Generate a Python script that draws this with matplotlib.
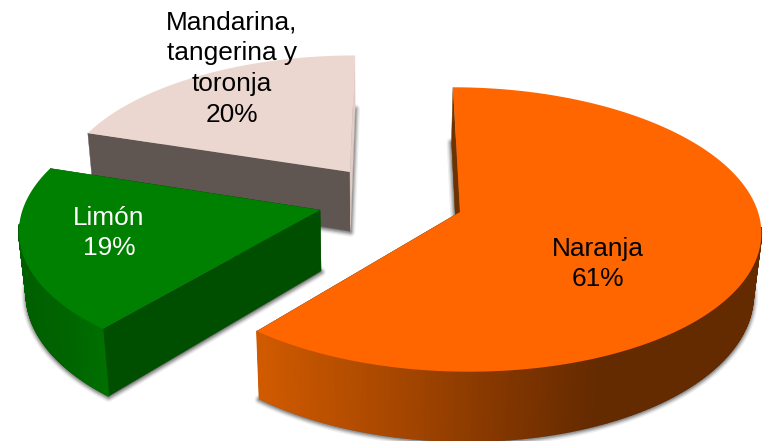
import numpy as np
import matplotlib
matplotlib.use("Agg")
import matplotlib.pyplot as plt
from matplotlib.collections import PolyCollection
from matplotlib.patches import Polygon

plt.rcParams['font.family'] = ['Liberation Sans', 'DejaVu Sans']

categories = ["Naranja", "Limón", "Mandarina,\ntangerina y\ntoronja"]
values = [61, 19, 20]

# projection of the pie plane, in pixels of the 767x441 picture
RADIUS = 298
XC, YC = 396, 212
SQUASH, DIST = 0.47, 2423
DEPTH = 61
FOOT_X, FOOT_DIST = 370, 3000

# where each slice tip lands on screen after the explode
tips = [(460, 212), (320, 210), (350, 172)]
top_colors = ["#ff6600", "#008000", "#ecd7d0"]
start_face = ["#6e3200", "#004e00", "#5f5551"]
end_face = ["#6e3200", "#004e00", "#e2cdc6"]
wall_stops = [
    ([260, 400, 520, 600, 763], ["#d05a00", "#a54600", "#7d3400", "#642a00", "#642a00"]),
    ([20, 60, 105], ["#005f00", "#006400", "#007000"]),
    ([80, 360], ["#5f5551", "#5f5551"]),
]
label_pos = [(597.5, 264), (109, 233), (232, 68.5)]
label_colors = ["black", "white", "black"]


def project(X, Y):
    s = DIST / (DIST + Y)
    return XC + X * s, YC - SQUASH * Y * s, s


def unproject(sx, sy):
    t = (YC - sy) / (SQUASH * DIST)
    Y = DIST * t / (1 - t)
    return (sx - XC) / (1 - t), Y


def drop(sx, sy, s):
    dy = DEPTH * s
    return sx + (FOOT_X - sx) * dy / FOOT_DIST, sy + dy


def hex_mix(xs, stops):
    rgb = np.array([matplotlib.colors.to_rgb(c) for c in stops[1]])
    return np.column_stack([np.interp(xs, stops[0], rgb[:, i]) for i in range(3)])


fig = plt.figure(figsize=(7.67, 4.41), dpi=100)
ax = fig.add_axes([0, 0, 1, 1])
ax.set_xlim(0, 767)
ax.set_ylim(441, 0)
ax.axis('off')

fractions = np.array(values) / sum(values)
edges = np.concatenate([[0], np.cumsum(fractions)]) * 2 * np.pi

# far slices first, orange never touches the others
for i in [2, 1, 0]:
    X0, Y0 = unproject(*tips[i])
    ang = np.linspace(edges[i], edges[i + 1], 220)
    ax_, ay_, as_ = project(X0 + RADIUS * np.sin(ang), Y0 + RADIUS * np.cos(ang))
    bx, by = drop(ax_, ay_, as_)
    tx, ty, ts = project(X0, Y0)
    tbx, tby = drop(tx, ty, ts)

    # soft shadow under the foot of the slice
    foot = np.column_stack([np.r_[tbx, bx], np.r_[tby, by]])
    for lw, al in zip([7, 5, 3.5, 2], [0.10, 0.16, 0.22, 0.3]):
        ax.add_patch(Polygon(foot + [0, 1], closed=True, fc='#555555', ec='#555555',
                             lw=lw, alpha=al, zorder=i * -10 + 30, joinstyle='round'))

    z = i * -10 + 31
    # the two cut faces
    ax.add_patch(Polygon([(tx, ty), (ax_[0], ay_[0]), (bx[0], by[0]), (tbx, tby)],
                         fc=start_face[i], ec=start_face[i], lw=0.3, zorder=z))
    ax.add_patch(Polygon([(tx, ty), (ax_[-1], ay_[-1]), (bx[-1], by[-1]), (tbx, tby)],
                         fc=end_face[i], ec=end_face[i], lw=0.3, zorder=z))

    # curved outer wall in thin strips so the colour can run along x, front part only
    front = np.where(np.cos(ang[:-1]) < -0.1)[0]
    quads = [[(ax_[j], ay_[j]), (ax_[j + 1], ay_[j + 1]), (bx[j + 1], by[j + 1]), (bx[j], by[j])]
             for j in front]
    cols = hex_mix((ax_[front] + ax_[front + 1]) / 2, wall_stops[i])
    ax.add_collection(PolyCollection(quads, facecolors=cols, edgecolors=cols, linewidths=1.0, zorder=z + 1))

    top = np.column_stack([np.r_[tx, ax_], np.r_[ty, ay_]])
    ax.add_patch(Polygon(top, closed=True, fc=top_colors[i], ec='none', zorder=z + 2))

for name, val, pos, col in zip(categories, values, label_pos, label_colors):
    ax.text(pos[0], pos[1], f"{name}\n{val}%", ha='center', va='center', color=col,
            fontsize=18.9, linespacing=1.36, zorder=60)

fig.savefig("out.png", dpi=100, facecolor='white')
